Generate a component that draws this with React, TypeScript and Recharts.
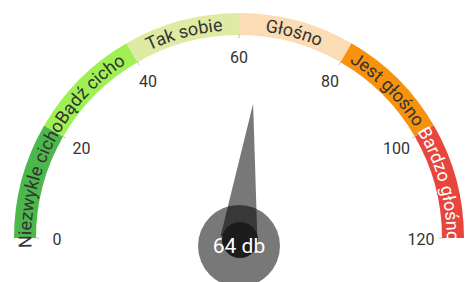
import React from 'react'
import { Pie, PieChart } from 'recharts'

const BAND_LABELS = ['Niezwykle cicho', 'Bądź cicho', 'Tak sobie', 'Głośno', 'Jest głośno', 'Bardzo głośno']
const BAND_SIZES = [20, 20, 20, 20, 20, 20]
const BAND_COLORS = ['#4cb84c', '#9ff052', '#dfeaa2', '#fcdcb4', '#f7920f', '#e8453c']
const BAND_TEXT = ['#333', '#333', '#333', '#333', '#333', '#fff']
const TICKS = [0, 20, 40, 60, 80, 100, 120]
const VALUE = 64
const UNIT = 'db'
const MAX = 120

const CX = 239
const CY = 238
const RAD = Math.PI / 180

const bandData = BAND_LABELS.map((name, i) => ({
  name,
  value: BAND_SIZES[i],
  fill: BAND_COLORS[i],
  textColor: BAND_TEXT[i],
}))
const tickData = TICKS.slice(1).map((t, i) => ({ name: String(i), value: t - TICKS[i], from: TICKS[i], to: t }))
const needleData = [
  { name: 'value', value: VALUE },
  { name: 'rest', value: MAX - VALUE },
]

const pt = (cx: number, cy: number, r: number, a: number) => [cx + r * Math.cos(a * RAD), cy - r * Math.sin(a * RAD)]

const renderBandLabel = (props: any) => {
  const { cx, cy, midAngle, innerRadius, outerRadius, index, payload } = props
  const fontSize = 18
  const r = (innerRadius + outerRadius) / 2 - fontSize * 0.35
  const [x1, y1] = pt(cx, cy, r, midAngle + 70)
  const [x2, y2] = pt(cx, cy, r, midAngle - 70)
  const id = `band-arc-${index}`
  return (
    <g key={id}>
      <defs>
        <path id={id} d={`M ${x1} ${y1} A ${r} ${r} 0 0 1 ${x2} ${y2}`} />
      </defs>
      <text fontSize={fontSize} fill={payload.textColor ?? '#333'} fontFamily="Roboto">
        <textPath href={`#${id}`} startOffset="50%" textAnchor="middle">
          {payload.name}
        </textPath>
      </text>
    </g>
  )
}

const tickMark = (cx: number, cy: number, angle: number, v: number, key: string) => {
  const [lx, ly] = pt(cx, cy, 182, angle)
  const [t1x, t1y] = pt(cx, cy, 200, angle)
  const [t2x, t2y] = pt(cx, cy, 204, angle)
  return (
    <g key={key}>
      <line x1={t1x} y1={t1y} x2={t2x} y2={t2y} stroke="#bbb" strokeWidth={1} />
      <text x={lx} y={ly + 1} textAnchor="middle" dominantBaseline="central" fontSize={16} fill="#333" fontFamily="Roboto">
        {v}
      </text>
    </g>
  )
}

const renderTick = (props: any) => {
  const { cx, cy, startAngle, endAngle, index, payload } = props
  return (
    <g key={`tick-${index}`}>
      {tickMark(cx, cy, startAngle, payload.from, `s${index}`)}
      {index === tickData.length - 1 && tickMark(cx, cy, endAngle, payload.to, `e${index}`)}
    </g>
  )
}

const renderNeedle = (props: any) => {
  const { cx, cy, endAngle, index } = props
  if (index !== 0) return null
  const len = 135
  const base = 18.5
  const [tx, ty] = pt(cx, cy, len, endAngle)
  const [b1x, b1y] = pt(cx, cy, base, endAngle + 90)
  const [b2x, b2y] = pt(cx, cy, base, endAngle - 90)
  return (
    <g key="needle">
      <circle cx={cx} cy={cy + 8} r={41} fill="#000" fillOpacity={0.53} />
      <path d={`M ${b1x} ${b1y} L ${tx} ${ty} L ${b2x} ${b2y} Z`} fill="#000" fillOpacity={0.53} />
      <circle cx={cx + 1} cy={cy + 2} r={18} fill="#1c1c1c" />
      <text x={cx} y={cy + 8} textAnchor="middle" dominantBaseline="central" fontSize={21} fill="#fff" fontFamily="Roboto">
        {`${VALUE} ${UNIT}`}
      </text>
    </g>
  )
}

export default function App() {
  return (
    <div style={{ position: 'fixed', left: 0, top: 0, width: 465, height: 282, background: '#fff' }}>
      <PieChart width={465} height={282} margin={{ top: 0, right: 0, bottom: 0, left: 0 }}>
        <Pie
          data={bandData}
          dataKey="value"
          cx={CX}
          cy={CY}
          startAngle={180}
          endAngle={0}
          innerRadius={203}
          outerRadius={225}
          stroke="none"
          label={renderBandLabel}
          labelLine={false}
          isAnimationActive={false}
        />
        <Pie
          data={tickData}
          dataKey="value"
          cx={CX}
          cy={CY}
          startAngle={180}
          endAngle={0}
          innerRadius={0}
          outerRadius={1}
          fill="none"
          stroke="none"
          label={renderTick}
          labelLine={false}
          isAnimationActive={false}
        />
        <Pie
          data={needleData}
          dataKey="value"
          cx={CX}
          cy={CY}
          startAngle={180}
          endAngle={0}
          innerRadius={0}
          outerRadius={1}
          fill="none"
          stroke="none"
          label={renderNeedle}
          labelLine={false}
          isAnimationActive={false}
        />
      </PieChart>
    </div>
  )
}
